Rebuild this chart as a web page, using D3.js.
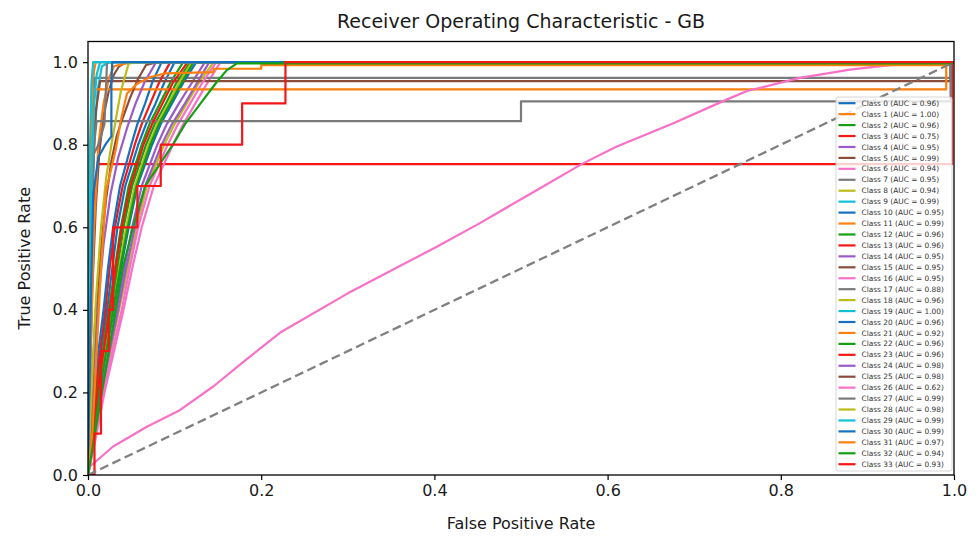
<!DOCTYPE html>
<html>
<head>
<meta charset="utf-8">
<script src="https://cdn.jsdelivr.net/npm/d3@7"></script>
<style>
  body { margin: 0; background: #fff; }
  svg { font-family: "DejaVu Sans", sans-serif; }
</style>
</head>
<body>
<div id="chart"></div>
<script>
// ROC points per class: [false positive rate, true positive rate]
const roc0 = [[0,0],[0.004,0.1],[0.009,0.2],[0.015,0.3],[0.022,0.4],[0.028,0.5],[0.034,0.6],[0.043,0.7],[0.058,0.8],[0.067,0.85],[0.078,0.9],[0.088,0.95],[0.1,1],[1,1]];
const roc1 = [[0,0],[0.001,0.3],[0.003,0.7],[0.005,0.93],[0.007,0.98],[0.009,1],[1,1]];
const roc2 = [[0,0],[0.005,0.1],[0.01,0.2],[0.017,0.3],[0.024,0.4],[0.031,0.5],[0.038,0.6],[0.047,0.7],[0.062,0.8],[0.071,0.85],[0.083,0.9],[0.095,0.95],[0.11,1],[1,1]];
const roc3 = [[0,0],[0.003,0.4],[0.007,0.68],[0.012,0.753],[0.998,0.753],[0.998,1],[1,1]];
const roc4 = [[0,0],[0.008,0.1],[0.015,0.2],[0.024,0.3],[0.033,0.4],[0.042,0.5],[0.051,0.6],[0.062,0.7],[0.08,0.8],[0.091,0.85],[0.105,0.9],[0.12,0.95],[0.135,1],[1,1]];
const roc5 = [[0,0],[0.002,0.2],[0.005,0.45],[0.009,0.65],[0.013,0.78],[0.018,0.87],[0.024,0.93],[0.03,0.97],[0.036,0.99],[0.045,1],[1,1]];
const roc6 = [[0,0],[0.01,0.1],[0.019,0.2],[0.03,0.3],[0.041,0.4],[0.051,0.5],[0.062,0.6],[0.076,0.7],[0.098,0.8],[0.11,0.85],[0.124,0.9],[0.138,0.95],[0.153,1],[1,1]];
const roc7 = [[0,0],[0.002,0.45],[0.005,0.8],[0.008,0.962],[0.996,0.962],[0.996,1],[1,1]];
const roc8 = [[0,0],[0.009,0.1],[0.017,0.2],[0.026,0.3],[0.036,0.4],[0.046,0.5],[0.056,0.6],[0.068,0.7],[0.088,0.8],[0.1,0.85],[0.114,0.9],[0.128,0.95],[0.145,1],[1,1]];
const roc9 = [[0,0],[0.002,0.35],[0.004,0.6],[0.007,0.8],[0.011,0.93],[0.016,0.99],[0.025,1],[1,1]];
const roc10 = [[0,0],[0.007,0.1],[0.013,0.2],[0.021,0.3],[0.03,0.4],[0.038,0.5],[0.047,0.6],[0.057,0.7],[0.074,0.8],[0.084,0.85],[0.097,0.9],[0.11,0.95],[0.125,1],[1,1]];
const roc11 = [[0,0],[0.003,0.3],[0.007,0.6],[0.012,0.8],[0.018,0.9],[0.024,0.96],[0.03,0.99],[0.05,1],[1,1]];
const roc12 = [[0,0],[0.006,0.1],[0.012,0.2],[0.019,0.3],[0.027,0.4],[0.034,0.5],[0.041,0.6],[0.051,0.7],[0.067,0.8],[0.077,0.85],[0.09,0.9],[0.102,0.95],[0.118,1],[1,1]];
const roc13 = [[0,0],[0.004,0.1],[0.008,0.2],[0.014,0.3],[0.02,0.4],[0.025,0.5],[0.031,0.6],[0.04,0.7],[0.054,0.8],[0.062,0.85],[0.072,0.9],[0.082,0.95],[0.095,1],[1,1]];
const roc14 = [[0,0],[0.008,0.1],[0.016,0.2],[0.025,0.3],[0.035,0.4],[0.044,0.5],[0.054,0.6],[0.066,0.7],[0.085,0.8],[0.097,0.85],[0.112,0.9],[0.126,0.95],[0.14,1],[1,1]];
const roc15 = [[0,0],[0.002,0.4],[0.005,0.7],[0.009,0.88],[0.014,0.954],[0.996,0.954],[0.996,1],[1,1]];
const roc16 = [[0,0],[0.009,0.1],[0.018,0.2],[0.028,0.3],[0.039,0.4],[0.048,0.5],[0.058,0.6],[0.071,0.7],[0.092,0.8],[0.104,0.85],[0.118,0.9],[0.132,0.95],[0.148,1],[1,1]];
const roc17 = [[0,0],[0.003,0.5],[0.007,0.8],[0.01,0.857],[0.5,0.857],[0.5,0.905],[0.996,0.905],[0.996,1],[1,1]];
const roc18 = [[0,0],[0.006,0.1],[0.012,0.2],[0.02,0.3],[0.029,0.4],[0.036,0.5],[0.044,0.6],[0.054,0.7],[0.07,0.8],[0.08,0.85],[0.093,0.9],[0.105,0.95],[0.12,1],[1,1]];
const roc19 = [[0,0],[0.001,0.4],[0.002,0.77],[0.004,0.95],[0.006,1],[1,1]];
const roc20 = [[0,0],[0.003,0.1],[0.006,0.2],[0.012,0.3],[0.018,0.4],[0.023,0.5],[0.029,0.6],[0.037,0.7],[0.05,0.8],[0.057,0.85],[0.066,0.9],[0.074,0.95],[0.085,1],[1,1]];
const roc21 = [[0,0],[0.002,0.5],[0.005,0.85],[0.008,0.934],[0.991,0.934],[0.991,0.997],[1,1]];
const roc22 = [[0,0],[0.006,0.1],[0.013,0.2],[0.021,0.3],[0.029,0.4],[0.037,0.5],[0.046,0.6],[0.056,0.7],[0.072,0.8],[0.082,0.85],[0.095,0.9],[0.108,0.95],[0.122,1],[1,1]];
const roc23 = [[0,0],[0.005,0.1],[0.011,0.2],[0.018,0.3],[0.025,0.4],[0.032,0.5],[0.039,0.6],[0.049,0.7],[0.064,0.8],[0.074,0.85],[0.086,0.9],[0.098,0.95],[0.115,1],[1,1]];
const roc24 = [[0,0],[0.005,0.2],[0.011,0.4],[0.018,0.56],[0.026,0.68],[0.035,0.77],[0.045,0.84],[0.055,0.9],[0.065,0.95],[0.078,0.998],[0.09,1],[1,1]];
const roc25 = [[0,0],[0.004,0.2],[0.009,0.4],[0.015,0.55],[0.021,0.67],[0.027,0.76],[0.033,0.82],[0.038,0.852],[0.049,0.916],[0.057,0.956],[0.067,0.993],[0.08,1],[1,1]];
const roc26 = [[0,0],[0.002,0.02],[0.029,0.069],[0.068,0.117],[0.106,0.157],[0.145,0.215],[0.183,0.28],[0.222,0.345],[0.3,0.44],[0.4,0.55],[0.45,0.607],[0.514,0.685],[0.57,0.753],[0.61,0.795],[0.676,0.852],[0.736,0.908],[0.761,0.93],[0.822,0.962],[0.88,0.982],[0.926,0.993],[0.97,1],[1,1]];
const roc27 = [[0,0],[0.001,0.3],[0.003,0.6],[0.005,0.77],[0.012,0.8],[0.019,0.85],[0.021,0.95],[0.022,1],[1,1]];
const roc28 = [[0,0],[0.004,0.2],[0.009,0.42],[0.015,0.6],[0.021,0.72],[0.027,0.8],[0.032,0.86],[0.038,0.93],[0.047,0.997],[0.06,1],[1,1]];
const roc29 = [[0,0],[0.002,0.4],[0.004,0.72],[0.007,0.9],[0.01,0.97],[0.014,1],[1,1]];
const roc30 = [[0,0],[0.003,0.4],[0.006,0.68],[0.012,0.77],[0.02,0.8],[0.027,0.82],[0.027,0.95],[0.028,1],[1,1]];
const roc31 = [[0,0],[0.005,0.1],[0.01,0.3],[0.015,0.5],[0.021,0.69],[0.032,0.787],[0.038,0.86],[0.045,0.924],[0.057,0.948],[0.072,0.964],[0.09,0.973],[0.145,0.976],[0.145,0.984],[0.2,0.984],[0.2,0.993],[0.993,0.993],[0.993,1],[1,1]];
const roc32 = [[0,0],[0.008,0.1],[0.016,0.2],[0.024,0.3],[0.032,0.4],[0.04,0.5],[0.052,0.6],[0.066,0.7],[0.098,0.8],[0.112,0.85],[0.13,0.9],[0.148,0.95],[0.16,0.98],[0.172,0.997],[0.996,0.997],[1,1]];
const roc33 = [[0,0],[0.0075,0],[0.0075,0.1],[0.015,0.1],[0.015,0.3],[0.024,0.3],[0.024,0.4],[0.029,0.4],[0.029,0.6],[0.057,0.6],[0.057,0.7],[0.084,0.7],[0.084,0.8],[0.178,0.8],[0.178,0.9],[0.228,0.9],[0.228,1],[1,1]];

const rocCurves = [roc0, roc1, roc2, roc3, roc4, roc5, roc6, roc7, roc8, roc9, roc10, roc11,
  roc12, roc13, roc14, roc15, roc16, roc17, roc18, roc19, roc20, roc21, roc22, roc23,
  roc24, roc25, roc26, roc27, roc28, roc29, roc30, roc31, roc32, roc33];

const aucValues = [0.96, 1.00, 0.96, 0.75, 0.95, 0.99, 0.94, 0.95, 0.94, 0.99,
  0.95, 0.99, 0.96, 0.96, 0.95, 0.95, 0.95, 0.88, 0.96, 1.00,
  0.96, 0.92, 0.96, 0.96, 0.98, 0.98, 0.62, 0.99, 0.98, 0.99,
  0.99, 0.97, 0.94, 0.93];

const xTicks = [0, 0.2, 0.4, 0.6, 0.8, 1.0];
const yTicks = [0, 0.2, 0.4, 0.6, 0.8, 1.0];

const palette = ["#1470c0", "#ff7f0e", "#12a012", "#f51616", "#9a5cc8",
  "#8c4c3c", "#f870c8", "#7a7a7a", "#bcbc1a", "#12c0d6"];

function init() {
    const W = 978, H = 541;
    const margin = { top: 41.5, right: 24, bottom: 66, left: 88 };
    const width = W - margin.left - margin.right;
    const height = H - margin.top - margin.bottom;

    const svg = d3.select("#chart")
        .append("svg")
        .attr("width", W)
        .attr("height", H);

    const g = svg.append("g")
        .attr("transform", `translate(${margin.left}, ${margin.top})`);

    const x = d3.scaleLinear().domain([0, 1]).range([0, width]);
    const y = d3.scaleLinear().domain([0, 1.05]).range([height, 0]);

    g.append("clipPath").attr("id", "clip")
        .append("rect").attr("width", width).attr("height", height);

    const line = d3.line().x(d => x(d[0])).y(d => y(d[1]));

    const plot = g.append("g").attr("clip-path", "url(#clip)");

    // ROC curves
    plot.selectAll(".roc")
        .data(rocCurves)
        .join("path")
        .attr("class", "roc")
        .attr("fill", "none")
        .attr("stroke", (d, i) => palette[i % 10])
        .attr("stroke-width", 2.2)
        .attr("stroke-linejoin", "round")
        .attr("d", line);

    // chance line
    plot.append("path")
        .attr("fill", "none")
        .attr("stroke", "#808080")
        .attr("stroke-width", 2.3)
        .attr("stroke-dasharray", "9,4.5")
        .attr("d", line([[0, 0], [1, 1]]));

    // Axes
    const xAxis = g.append("g")
        .attr("transform", `translate(0, ${height})`)
        .call(d3.axisBottom(x).tickValues(xTicks).tickFormat(d3.format(".1f")).tickSize(5).tickPadding(5));
    const yAxis = g.append("g")
        .call(d3.axisLeft(y).tickValues(yTicks).tickFormat(d3.format(".1f")).tickSize(5).tickPadding(5));

    [xAxis, yAxis].forEach(a => {
        a.select(".domain").remove();
        a.selectAll("line").attr("stroke", "#000").attr("stroke-width", 1.2);
        a.selectAll("text")
            .attr("fill", "#1a1a1a")
            .style("font-family", "DejaVu Sans")
            .style("font-size", "16px");
    });

    g.append("rect")
        .attr("width", width)
        .attr("height", height)
        .attr("fill", "none")
        .attr("stroke", "#000")
        .attr("stroke-width", 1.3);

    // Legend
    const legend = g.append("g")
        .attr("transform", `translate(${836 - margin.left}, ${97 - margin.top})`);

    legend.append("rect")
        .attr("width", 116)
        .attr("height", 374)
        .attr("rx", 2)
        .attr("fill", "#fff")
        .attr("fill-opacity", 0.8)
        .attr("stroke", "#cccccc")
        .attr("stroke-width", 0.8);

    const rows = legend.selectAll(".row")
        .data(aucValues)
        .join("g")
        .attr("class", "row")
        .attr("transform", (d, i) => `translate(0, ${6.2 + i * 10.94})`);

    rows.append("line")
        .attr("x1", 2.5).attr("x2", 19.5)
        .attr("stroke", (d, i) => palette[i % 10])
        .attr("stroke-width", 2.2);

    rows.append("text")
        .attr("x", 25.5)
        .attr("y", 2.6)
        .style("font-size", "7.4px")
        .attr("fill", "#333")
        .text((d, i) => `Class ${i} (AUC = ${d.toFixed(2)})`);

    // Labels
    svg.append("text")
        .attr("x", margin.left + width / 2)
        .attr("y", 28)
        .attr("text-anchor", "middle")
        .style("font-size", "19px")
        .attr("fill", "#1a1a1a")
        .text("Receiver Operating Characteristic - GB");

    svg.append("text")
        .attr("x", margin.left + width / 2)
        .attr("y", 529)
        .attr("text-anchor", "middle")
        .style("font-size", "16px")
        .attr("fill", "#1a1a1a")
        .text("False Positive Rate");

    svg.append("text")
        .attr("transform", `translate(30, ${margin.top + y(0.525)}) rotate(-90)`)
        .attr("text-anchor", "middle")
        .style("font-size", "16px")
        .attr("fill", "#1a1a1a")
        .text("True Positive Rate");
}

document.addEventListener("DOMContentLoaded", init);
</script>
</body>
</html>
